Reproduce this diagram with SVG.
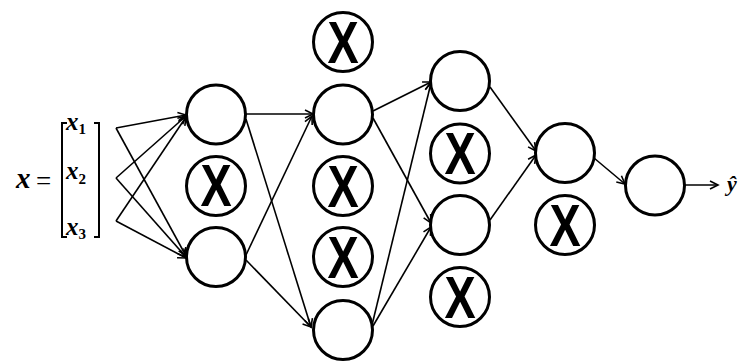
<svg xmlns="http://www.w3.org/2000/svg" width="750" height="363" viewBox="0 0 750 363">
<defs>
<style>
.n{fill:#fff;stroke:#000;stroke-width:3}
.x{font-family:"Liberation Sans",Arial,sans-serif;font-weight:bold;font-size:60px;text-anchor:middle}
.c{stroke:#000;stroke-width:1.6;fill:none;marker-end:url(#a)}
.m{font-family:"Liberation Serif","Times New Roman",serif;font-style:italic;font-weight:bold;fill:#000}
.s{font-family:"Liberation Serif","Times New Roman",serif;font-weight:bold;font-style:normal;font-size:15px}
.b{stroke:#000;stroke-width:2;fill:none}
</style>
<marker id="a" markerUnits="userSpaceOnUse" markerWidth="12" markerHeight="12" refX="9" refY="5" orient="auto"><path d="M1,1 L9,5 L1,9" fill="none" stroke="#000" stroke-width="1.6"/></marker>
</defs>
<g id="input">
<text class="m" x="16" y="188" font-size="29">x</text>
<text x="36" y="190" font-size="27" font-family="Liberation Serif,serif">=</text>
<path class="b" d="M67,123 H62 V237 H67"/>
<path class="b" d="M94,123 H99 V237 H94"/>
<text class="m" x="66" y="130" font-size="25">x<tspan class="s" dy="4">1</tspan></text>
<text class="m" x="66" y="179" font-size="25">x<tspan class="s" dy="5">2</tspan></text>
<text class="m" x="66" y="235" font-size="25">x<tspan class="s" dy="4">3</tspan></text>
</g>
<g id="connectors">
<line class="c" x1="116" y1="128" x2="186" y2="115"/>
<line class="c" x1="116" y1="178" x2="186" y2="116"/>
<line class="c" x1="116" y1="221" x2="186" y2="117"/>
<line class="c" x1="116" y1="128" x2="186" y2="256"/>
<line class="c" x1="116" y1="178" x2="186" y2="257"/>
<line class="c" x1="116" y1="221" x2="186" y2="258"/>
<line class="c" x1="246" y1="114" x2="313" y2="114"/>
<line class="c" x1="246" y1="119" x2="311" y2="327"/>
<line class="c" x1="246" y1="255" x2="312" y2="116"/>
<line class="c" x1="246" y1="260" x2="311" y2="327"/>
<line class="c" x1="373" y1="111" x2="431" y2="82"/>
<line class="c" x1="373" y1="118" x2="431" y2="223"/>
<line class="c" x1="372" y1="325" x2="431" y2="83"/>
<line class="c" x1="373" y1="326" x2="431" y2="227"/>
<line class="c" x1="490" y1="87" x2="536" y2="151"/>
<line class="c" x1="490" y1="220" x2="536" y2="155"/>
<line class="c" x1="594" y1="158" x2="625" y2="184"/>
<line class="c" x1="685" y1="185" x2="718" y2="185"/>
</g>
<g id="l1n1"><circle class="n" cx="216" cy="114.5" r="29.5"/></g>
<g id="l1x"><circle class="n" cx="216" cy="186" r="29.5"/><text class="x" x="216" y="206" transform="translate(216 0) scale(0.78 1) translate(-216 0)">X</text></g>
<g id="l1n2"><circle class="n" cx="216" cy="257" r="29.5"/></g>
<g id="l2x1"><circle class="n" cx="343" cy="42" r="29.5"/><text class="x" x="343" y="63" transform="translate(343 0) scale(0.78 1) translate(-343 0)">X</text></g>
<g id="l2n1"><circle class="n" cx="343" cy="114.5" r="29.5"/></g>
<g id="l2x2"><circle class="n" cx="343" cy="186" r="29.5"/><text class="x" x="343" y="207" transform="translate(343 0) scale(0.78 1) translate(-343 0)">X</text></g>
<g id="l2x3"><circle class="n" cx="343" cy="257" r="29.5"/><text class="x" x="343" y="278" transform="translate(343 0) scale(0.78 1) translate(-343 0)">X</text></g>
<g id="l2n2"><circle class="n" cx="343" cy="330" r="29.5"/></g>
<g id="l3n1"><circle class="n" cx="460" cy="81" r="29.5"/></g>
<g id="l3x1"><circle class="n" cx="460" cy="153.5" r="29.5"/><text class="x" x="460" y="174" transform="translate(460 0) scale(0.78 1) translate(-460 0)">X</text></g>
<g id="l3n2"><circle class="n" cx="460" cy="225" r="29.5"/></g>
<g id="l3x2"><circle class="n" cx="460" cy="297" r="29.5"/><text class="x" x="460" y="318" transform="translate(460 0) scale(0.78 1) translate(-460 0)">X</text></g>
<g id="l4n1"><circle class="n" cx="565" cy="153" r="29.5"/></g>
<g id="l4x1"><circle class="n" cx="565" cy="225" r="29.5"/><text class="x" x="565" y="246" transform="translate(565 0) scale(0.78 1) translate(-565 0)">X</text></g>
<g id="l5n1"><circle class="n" cx="655" cy="185.5" r="29.5"/></g>
<g id="output"><text class="m" x="727" y="191" font-size="22">ŷ</text></g>
</svg>
